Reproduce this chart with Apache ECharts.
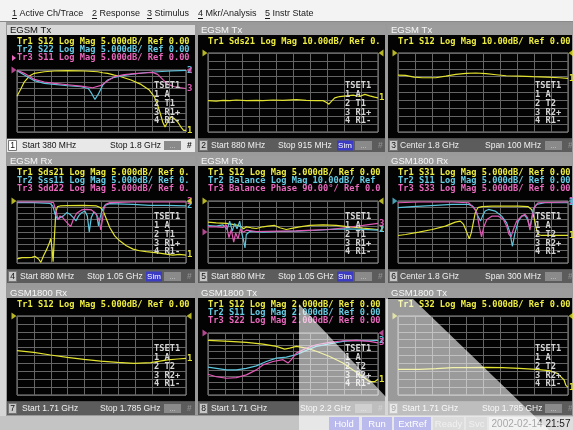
<!DOCTYPE html>
<html>
<head>
<meta charset="utf-8">
<script src="https://cdn.jsdelivr.net/npm/echarts@6/dist/echarts.min.js"></script>
<style>
  html, body { margin: 0; padding: 0; background: #9a9a9a; }
  #chart { width: 573px; height: 430px; }
</style>
</head>
<body>
<div id="chart"></div>
<script>
// ---------- measured traces: frequency (MHz) and response ----------
// Ch1  EGSM Tx  380 MHz .. 1.8 GHz
const ch1F_S12 = [380,414,442,484,526,610,694,806,946,1058,1100,1142,1198,1254,1338,1422,1492,1534,1562,1584,1604,1624,1646,1674,1702,1730,1758,1780,1800];
const ch1S12   = [-21.1,-14.9,-9.5,-4.9,-2.7,-1.4,-0.8,-0.5,-0.8,-1.4,-2.2,-2.7,-4.1,-5.4,-8.1,-11.6,-16.2,-21.6,-28.4,-35.1,-41.9,-46.0,-41.9,-37.8,-39.2,-41.9,-46.0,-48.7,-48.7];
const ch1F_S22 = [380,442,526,610,694,806,918,979,1007,1035,1063,1100,1142,1198,1282,1366,1450,1562,1674,1800];
const ch1S22   = [-0.5,-4.1,-8.6,-10.8,-11.6,-12.7,-13.5,-14.9,-18.9,-23.8,-19.5,-12.2,-8.1,-5.9,-4.3,-3.2,-2.2,-1.4,-0.8,-0.3];
const ch1F_S11 = [380,442,526,610,694,806,918,1016,1086,1142,1198,1282,1366,1450,1520,1562,1604,1646,1702,1758,1800];
const ch1S11   = [-0.2,-2.7,-7.6,-9.7,-10.8,-11.9,-13.0,-14.3,-12.4,-8.6,-5.4,-3.8,-3.0,-2.4,-1.9,-3.5,-7.6,-11.4,-13.5,-14.3,-14.9];

// Ch2  EGSM Tx  880 .. 915 MHz
const ch2F     = [880,881.7,883.1,884.5,885.8,887.9,890.0,891.3,893.4,895.4,898.2,900.2,902.3,903.7,904.4,904.9,905.4,906.1,907.1,908.5,909.9,911.2,912.3,913.3,914.3,915];
const ch2Sds21 = [-60.3,-60.8,-59.9,-60.3,-59.5,-60.3,-59.9,-60.3,-59.5,-59.9,-59.0,-59.9,-60.3,-60.3,-62.6,-64.8,-61.2,-56.8,-55.1,-54.2,-53.3,-55.1,-52.4,-54.2,-55.9,-56.8];

// Ch3  EGSM Tx  center 1.8 GHz, span 100 MHz
const ch3F   = [1750,1754.5,1759.4,1764.4,1772.2,1778.1,1784.1,1790,1795.9,1801.8,1807.7,1813.6,1821.5,1829.3,1837.2,1845.1,1850];
const ch3S12 = [-27.9,-28.3,-30.5,-31.3,-31.3,-29.2,-27.0,-25.8,-25.3,-26.2,-27.5,-28.8,-29.2,-30.0,-30.5,-31.3,-32.2];

// Ch4  EGSM Rx  880 MHz .. 1.05 GHz
const ch4F_Sds21 = [880,885,890,895,898.3,901.7,904,906.7,910,912.7,914,915.3,916.3,917.7,919,920.7,923.3,930,946.7,960,964,966.7,970,973.3,978.3,983.3,990,996.7,1003.3,1010,1016.7,1023.3,1030,1036.7,1043.3,1050];
const ch4Sds21   = [-46.8,-45.7,-45.7,-45.5,-44.7,-46.8,-49.5,-44.1,-38.8,-33.4,-30.2,-38.8,-48.9,-28.1,-9.4,-4.5,-4.0,-3.7,-3.5,-4.0,-5.3,-8.0,-14.7,-21.4,-28.1,-32.1,-36.1,-38.8,-40.1,-40.9,-41.4,-42.0,-42.8,-43.6,-43.1,-43.6];
const ch4F_Sss11 = [880,896.7,913.3,916,918.3,920.7,923.3,926.7,930,933.3,936.7,939.3,942,945,948.3,950.7,952.7,954.7,957.3,960,962,963.3,965.3,968.3,973.3,996.7,1013.3,1030,1050];
const ch4Sss11   = [-1.3,-1.3,-1.9,-4.0,-10.7,-14.7,-13.4,-12.0,-9.4,-10.7,-13.4,-16.0,-12.0,-9.4,-8.0,-12.0,-24.9,-13.4,-8.8,-10.7,-20.1,-14.7,-8.0,-3.5,-2.1,-2.7,-3.5,-3.5,-4.0];
const ch4F_Sdd22 = [880,896.7,913.3,916.7,919.3,921.3,923.3,926,928.7,931.7,934,936.7,940,945,950,955,958.3,960.7,962.7,964.3,966,967.3,969.3,973.3,996.7,1030,1050];
const ch4Sdd22   = [-0.8,-0.8,-0.8,-1.3,-8.0,-15.2,-12.0,-13.4,-16.0,-18.7,-20.6,-14.7,-9.9,-7.2,-6.7,-7.2,-9.4,-12.0,-16.0,-23.3,-14.7,-6.7,-2.7,-1.3,-0.8,-0.8,-0.8];

// Ch5  EGSM Rx  880 MHz .. 1.05 GHz (S12, balance magnitude, balance phase)
const ch5F_S12  = [880,888.3,898.3,905,910,913.3,915.7,918.3,923.3,928.3,935,940,946.7,951.7,958.3,965,971.7,981.7,995,1008.3,1021.7,1035,1050];
const ch5S12    = [-17.0,-17.6,-18.1,-18.9,-19.7,-20.8,-22.4,-20.8,-21.6,-22.2,-20.8,-20.3,-19.7,-21.6,-23.0,-21.9,-20.8,-19.7,-19.2,-19.7,-20.8,-21.9,-23.0];
const ch5F_Bal  = [880,888.3,895,899,901.7,904.3,906.7,909,911.7,913.7,915.7,917,918.3,921.7,935,951.7,968.3,985,1001.7,1018.3,1035,1050];
const ch5BalMag = [10.5,9.5,11.6,4.1,17.6,1.4,13.8,5.1,17.6,-1.4,-14.9,-25.7,-4.1,0.8,-0.3,0.8,1.4,2.4,4.1,5.1,4.1,3.0];
const ch5F_Ph   = [880,888.3,895,898.3,901,903.3,905.7,907.7,910,912.3,915,918.3,928.3,951.7,968.3,985,1001.7,1018.3,1035,1050];
const ch5BalPh  = [75.4,75.4,65.7,104.6,-82.2,36.5,-148.4,-12.2,-99.7,36.5,-2.4,26.8,7.3,12.2,17.0,26.8,36.5,65.7,94.9,124.1];

// Ch6  GSM1800 Rx  center 1.8 GHz, span 300 MHz
const ch6F_S31 = [1650,1663.5,1686.9,1710.3,1733.6,1751.2,1760,1765.8,1771.7,1775.8,1779.3,1783.4,1786.3,1791,1798,1815.5,1833,1862.3,1879.8,1885.7,1888.6,1891.5,1894.5,1897.4,1903.2,1920.8,1950];
const ch6S31   = [-27.8,-27.0,-25.1,-23.0,-20.3,-17.0,-16.2,-18.9,-25.7,-30.5,-25.7,-16.2,-9.5,-5.4,-4.6,-4.1,-4.1,-4.1,-4.6,-6.8,-10.8,-16.2,-23.0,-27.0,-27.8,-27.8,-27.8];
const ch6F_S11 = [1650,1675.1,1716.1,1745.3,1774.6,1781.6,1786.3,1791,1795.6,1799.1,1803.8,1809.7,1821.4,1833,1841.8,1847.7,1851.8,1856.5,1862.3,1868.2,1874.1,1878.7,1882.8,1885.7,1888.6,1894.5,1909.1,1950];
const ch6S11   = [-5.4,-4.6,-3.5,-2.7,-2.7,-4.1,-6.8,-12.2,-16.2,-12.2,-8.1,-6.8,-8.1,-12.2,-17.6,-25.7,-36.5,-25.7,-16.2,-12.2,-11.6,-14.9,-21.6,-14.9,-6.8,-2.7,-1.4,-1.4];
const ch6F_S33 = [1650,1686.9,1745.3,1774.6,1783.4,1789.2,1793.9,1797.4,1800.9,1806.7,1815.5,1827.2,1836,1841.8,1845.9,1849.4,1853.5,1859.4,1868.2,1874.1,1878.7,1882.8,1885.7,1890.4,1897.4,1950];
const ch6S33   = [-1.4,-0.8,-0.8,-1.4,-5.4,-9.5,-21.6,-28.9,-21.6,-14.9,-12.2,-12.2,-14.9,-20.3,-27.0,-28.9,-23.0,-16.2,-12.2,-10.8,-13.5,-23.5,-14.9,-5.4,-1.4,-0.8];

// Ch7  GSM1800 Rx  1.71 .. 1.785 GHz
const ch7F   = [1710,1717.4,1724.9,1732.3,1739.7,1747.1,1754.6,1762,1769.4,1776.8,1781.3,1785];
const ch7S12 = [-21.9,-23.0,-24.7,-26.2,-27.4,-28.5,-29.3,-30.0,-29.5,-27.8,-27.2,-26.8];

// Ch8  GSM1800 Tx  1.71 .. 2.2 GHz
const ch8F_S12 = [1710,1772.5,1820.5,1868.5,1907,1931,1945.4,1964.6,1993.4,2022.3,2060.7,2099.1,2127.9,2156.8,2176,2190.4,2200];
const ch8S12   = [-2.4,-2.7,-3.0,-3.6,-4.3,-5.2,-4.9,-4.3,-4.9,-5.9,-7.6,-9.7,-11.9,-14.1,-15.7,-15.7,-14.9];
const ch8F_S11 = [1710,1734,1762.8,1791.7,1820.5,1849.3,1878.1,1907,1935.8,1964.6,1993.4,2022.3,2060.7,2099.1,2137.6,2176,2200];
const ch8S11   = [-11.0,-11.4,-11.9,-11.9,-11.4,-10.6,-9.2,-8.1,-7.8,-7.0,-5.6,-4.3,-3.5,-2.7,-2.4,-2.5,-2.4];
const ch8F_S22 = [1710,1734,1762.8,1791.7,1820.5,1849.3,1868.5,1897.4,1926.2,1940.6,1950.2,1964.6,1993.4,2022.3,2060.7,2099.1,2137.6,2176,2200];
const ch8S22   = [-13.3,-14.1,-14.6,-14.4,-13.5,-11.9,-10.3,-9.2,-8.6,-9.7,-8.6,-6.5,-4.9,-3.8,-3.0,-2.5,-2.4,-2.7,-3.2];

// Ch9  GSM1800 Tx  1.71 .. 1.785 GHz
const ch9F   = [1710,1719.5,1726.8,1734.2,1741.5,1748.8,1756.1,1763.5,1770.8,1776.7,1780.3,1781.8,1783.3,1784,1785];
const ch9S32 = [-33.8,-33.8,-33.3,-32.7,-32.7,-32.5,-32.7,-33.1,-33.8,-34.6,-36.3,-38.4,-40.5,-43.7,-45.2];

// ---------- menu / status texts ----------
const menuItems = ['1 Active Ch/Trace', '2 Response', '3 Stimulus', '4 Mkr/Analysis', '5 Instr State'];
const statusItems = ['Hold', 'Run', 'ExtRef', 'Ready', 'Svc', '2002-02-14 21:57'];

// ---------- styling ----------
const YEL = '#e2e230', CYN = '#5cc4dc', MAG = '#e05ab4';
const HYEL = '#ecec40', HCYN = '#66cce4', HMAG = '#e868bc';
const MONO = 'DejaVu Sans Mono', SANS = 'Liberation Sans';

const tsetA = ['TSET1', '1 A', '2 T1', '3 R1+', '4 R1-'];
const tsetB = ['TSET1', '1 A', '2 T2', '3 R2+', '4 R1-'];

// trace helper: f = frequencies, v = values, div = scale per division, pos = reference position (divisions from bottom)
// mark: 0 none, 1 both reference triangles, 2 left triangle only
const tr = (f, v, c, div, pos, n, mark = 0) => ({ f, v, c, div, pos, ref: 0, n, mark });

const channels = [
  { title: 'EGSM Tx', start: 380, stop: 1800, active: true,
    head: [['Tr1 S12 Log Mag 5.000dB/ Ref 0.00', HYEL], ['Tr2 S22 Log Mag 5.000dB/ Ref 0.00', HCYN], ['Tr3 S11 Log Mag 5.000dB/ Ref 0.00', HMAG]],
    tset: tsetA, foot: ['Start 380 MHz', 'Stop 1.8 GHz'], fx: [15, 103], sim: false,
    traces: [tr(ch1F_S12, ch1S12, YEL, 5, 10, '1'), tr(ch1F_S22, ch1S22, CYN, 5, 10, '2'), tr(ch1F_S11, ch1S11, MAG, 5, 10, '3', 1)] },
  { title: 'EGSM Tx', start: 880, stop: 915,
    head: [['Tr1 Sds21 Log Mag 10.00dB/ Ref 0.', HYEL]],
    tset: tsetA, foot: ['Start 880 MHz', 'Stop 915 MHz'], fx: [13, 80], sim: true,
    traces: [tr(ch2F, ch2Sds21, YEL, 10, 10, '1', 1)] },
  { title: 'EGSM Tx', start: 1750, stop: 1850,
    head: [['Tr1 S12 Log Mag 10.00dB/ Ref 0.00', HYEL]],
    tset: tsetB, foot: ['Center 1.8 GHz', 'Span 100 MHz'], fx: [12, 97], sim: false,
    traces: [tr(ch3F, ch3S12, YEL, 10, 10, '1', 1)] },
  { title: 'EGSM Rx', start: 880, stop: 1050,
    head: [['Tr1 Sds21 Log Mag 5.000dB/ Ref 0.', HYEL], ['Tr2 Sss11 Log Mag 5.000dB/ Ref 0.', HCYN], ['Tr3 Sdd22 Log Mag 5.000dB/ Ref 0.', HMAG]],
    tset: tsetA, foot: ['Start 880 MHz', 'Stop 1.05 GHz'], fx: [13, 80], sim: true,
    traces: [tr(ch4F_Sds21, ch4Sds21, YEL, 5, 10, '1', 1), tr(ch4F_Sss11, ch4Sss11, CYN, 5, 10, '2'), tr(ch4F_Sdd22, ch4Sdd22, MAG, 5, 10, '3')] },
  { title: 'EGSM Rx', start: 880, stop: 1050,
    head: [['Tr1 S12 Log Mag 5.000dB/ Ref 0.00', HYEL], ['Tr2 Balance Log Mag 10.00dB/ Ref', HCYN], ['Tr3 Balance Phase 90.00\u00b0/ Ref 0.0', HMAG]],
    tset: tsetA, foot: ['Start 880 MHz', 'Stop 1.05 GHz'], fx: [13, 80], sim: true,
    traces: [tr(ch5F_S12, ch5S12, YEL, 5, 10, '1', 1), tr(ch5F_Bal, ch5BalMag, CYN, 10, 5, '2'), tr(ch5F_Ph, ch5BalPh, MAG, 90, 5, '3', 2)] },
  { title: 'GSM1800 Rx', start: 1650, stop: 1950,
    head: [['Tr1 S31 Log Mag 5.000dB/ Ref 0.00', HYEL], ['Tr2 S11 Log Mag 5.000dB/ Ref 0.00', HCYN], ['Tr3 S33 Log Mag 5.000dB/ Ref 0.00', HMAG]],
    tset: tsetB, foot: ['Center 1.8 GHz', 'Span 300 MHz'], fx: [12, 97], sim: false,
    traces: [tr(ch6F_S31, ch6S31, YEL, 5, 10, '1'), tr(ch6F_S11, ch6S11, CYN, 5, 10, '2', 1), tr(ch6F_S33, ch6S33, MAG, 5, 10, '3')] },
  { title: 'GSM1800 Rx', start: 1710, stop: 1785,
    head: [['Tr1 S12 Log Mag 5.000dB/ Ref 0.00', HYEL]],
    tset: tsetB, foot: ['Start 1.71 GHz', 'Stop 1.785 GHz'], fx: [15, 93], sim: false,
    traces: [tr(ch7F, ch7S12, YEL, 5, 10, '1', 1)] },
  { title: 'GSM1800 Tx', start: 1710, stop: 2200,
    head: [['Tr1 S12 Log Mag 2.000dB/ Ref 0.00', HYEL], ['Tr2 S11 Log Mag 2.000dB/ Ref 0.00', HCYN], ['Tr3 S22 Log Mag 2.000dB/ Ref 0.00', HMAG]],
    tset: tsetB, foot: ['Start 1.71 GHz', 'Stop 2.2 GHz'], fx: [13, 102], sim: false,
    traces: [tr(ch8F_S12, ch8S12, YEL, 2, 10, '1'), tr(ch8F_S11, ch8S11, CYN, 2, 10, '2'), tr(ch8F_S22, ch8S22, MAG, 2, 10, '3', 1)] },
  { title: 'GSM1800 Tx', start: 1710, stop: 1785,
    head: [['Tr1 S32 Log Mag 5.000dB/ Ref 0.00', HYEL]],
    tset: tsetB, foot: ['Start 1.71 GHz', 'Stop 1.785 GHz'], fx: [14, 94], sim: false,
    traces: [tr(ch9F, ch9S32, YEL, 5, 10, '1', 1)] }
];

// ---------- window layout ----------
const colX = [7, 198, 388], colW = [188, 187, 184];
const rowY = [25, 156, 288];

const g = [];
const rect = (x, y, w, h, fill, z = -1, stroke) => g.push({ type: 'rect', silent: true, z,
  shape: { x, y, width: w, height: h }, style: stroke ? { fill, stroke, lineWidth: 1 } : { fill } });
const text = (x, y, s, fill, size, family, weight = 'normal', align = 'left', z = 6) => g.push({ type: 'text', silent: true, z, x, y,
  style: { text: s, fill, fontSize: size, fontFamily: family, fontWeight: weight, align, verticalAlign: 'middle' } });
const line = (x1, y1, x2, y2, stroke, z = 0) => g.push({ type: 'line', silent: true, z,
  shape: { x1, y1, x2, y2 }, style: { stroke, lineWidth: 1 } });

// menu bar
rect(0, 0, 573, 21, '#f3f3f3');
line(0, 21.5, 573, 21.5, '#8a8a8a');
rect(0, 22, 6, 408, '#d6d6d6');
const menuX = [12, 92, 147, 198, 265];
menuItems.forEach((m, k) => {
  text(menuX[k], 13.5, m, '#1a1a1a', 9, SANS, 'normal', 'left', 6);
  line(menuX[k], 18.5, menuX[k] + 5, 18.5, '#1a1a1a', 6);
});

const option = {
  backgroundColor: '#9a9a9a',
  animation: false,
  grid: [], xAxis: [], yAxis: [], series: [],
  graphic: { elements: g }
};

const divAxis = (gridIndex) => ({
  type: 'value', gridIndex, min: 0, max: 10, interval: 1,
  axisLine: { show: false }, axisTick: { show: false }, axisLabel: { show: false },
  splitLine: { show: true, lineStyle: { color: '#656565', width: 1 } }
});

channels.forEach((ch, i) => {
  const col = i % 3, row = Math.floor(i / 3);
  const x0 = colX[col], y0 = rowY[row], w = colW[col];
  const act = !!ch.active;

  // panel frame: title bar, trace area, footer
  rect(x0, y0, w, 10, act ? '#d8d8d8' : '#9c9c9c');
  text(x0 + 3, y0 + 5.5, ch.title, act ? '#111' : '#f6f6f6', 9.5, SANS);
  rect(x0, y0 + 10, w, 103.5, '#030303');
  rect(x0, y0 + 114, w, 13, act ? '#e8e8e8' : '#5c5c5c');
  const fy = y0 + 120.5;
  rect(x0 + 1.5, y0 + 115.5, 8, 10, act ? '#ffffff' : '#c8c8c8', 0, '#777');
  text(x0 + 5.5, fy, String(i + 1), '#111', 8.5, SANS, 'normal', 'center');
  text(x0 + ch.fx[0], fy, ch.foot[0], act ? '#111' : '#f0f0f0', 8.5, SANS);
  text(x0 + ch.fx[1], fy, ch.foot[1], act ? '#111' : '#f0f0f0', 8.5, SANS);
  if (ch.sim) {
    rect(x0 + 139, y0 + 115.5, 16, 10, '#3b3bc4');
    text(x0 + 147, fy, 'Sim', '#ffffff', 8, SANS, 'normal', 'center');
  }
  rect(x0 + 157, y0 + 116, 17, 9, '#8a8a8a');
  text(x0 + 165.5, fy, '...', '#d0d0d0', 8, SANS, 'normal', 'center');
  text(x0 + 180, fy, '#', act ? '#111' : '#8c8c8c', 8.5, SANS, 'bold');

  // trace header lines
  ch.head.forEach((h, k) => text(x0 + 10, y0 + 17 + k * 8, h[0], h[1], 8.7, MONO, 'bold'));
  if (act) {
    const ay = y0 + 33;
    g.push({ type: 'polygon', silent: true, z: 6, shape: { points: [[x0 + 5, ay - 3], [x0 + 5, ay + 3], [x0 + 9, ay]] }, style: { fill: HMAG } });
  }
  // test set annotation
  ch.tset.forEach((s, k) => text(x0 + 147, y0 + 61 + k * 8.8, s, '#d4d4d4', 8.7, MONO, 'bold'));

  // graticule
  const gTop = y0 + (ch.head.length === 3 ? 45 : 28);
  const gLeft = x0 + 10, gW = col === 0 ? 169 : 170, gH = y0 + 107 - gTop;
  option.grid.push({ left: gLeft, top: gTop, width: gW, height: gH, show: true,
    borderColor: '#909090', borderWidth: 1, backgroundColor: 'transparent' });
  option.xAxis.push(divAxis(i));
  option.yAxis.push(divAxis(i));
  const xF = option.xAxis.length;
  option.xAxis.push({ type: 'value', gridIndex: i, min: ch.start, max: ch.stop, show: false });

  ch.traces.forEach(t => {
    const yi = option.yAxis.length;
    option.yAxis.push({ type: 'value', gridIndex: i, show: false,
      min: t.ref - t.pos * t.div, max: t.ref + (10 - t.pos) * t.div });
    option.series.push({
      type: 'line', xAxisIndex: xF, yAxisIndex: yi, silent: true, z: 3,
      data: t.f.map((f, k) => [f, t.v[k]]),
      showSymbol: false, symbol: 'none',
      lineStyle: { color: t.c, width: 1.2 }, itemStyle: { color: t.c },
      endLabel: { show: true, formatter: t.n, color: t.c, fontFamily: MONO, fontSize: 9, fontWeight: 'bold', distance: 1 }
    });
    if (t.mark) {
      const marks = [{ value: [ch.start, t.ref], symbolRotate: -90, symbolOffset: [-3, 0] }];
      if (t.mark === 1) marks.push({ value: [ch.stop, t.ref], symbolRotate: 90, symbolOffset: [3, 0] });
      option.series.push({
        type: 'scatter', xAxisIndex: xF, yAxisIndex: yi, silent: true, z: 4, clip: false,
        symbol: 'triangle', symbolSize: [7, 5], itemStyle: { color: t.c }, data: marks
      });
    }
  });
});

// status bar
rect(0, 416, 573, 14, '#c4c4c4');
const stat = [
  [329, 30, '#5454d0', '#ffffff'], [362, 30, '#5454d0', '#ffffff'], [394, 37, '#5454d0', '#ffffff'],
  [433, 31, '#a8a8a8', '#dcdcdc'], [466, 21, '#a8a8a8', '#dcdcdc'], [489, 84, '#dedede', '#202020']
];
statusItems.forEach((s, k) => {
  const [x, w, bg, fg] = stat[k];
  rect(x, 417, w, 13, bg, 0);
  text(x + w / 2, 424, s, fg, k === 5 ? 10 : 9.5, SANS, 'normal', 'center', 6);
});

// glare over the lower right corner of the screen
g.push({ type: 'polygon', silent: true, z: 100,
  shape: { points: [[299, 304], [386, 397], [386, 299], [413, 299], [549, 430], [299, 430]] },
  style: { fill: 'rgba(255,255,255,0.6)' } });

const chart = echarts.init(document.getElementById('chart'), null, { renderer: 'canvas' });
chart.setOption(option);
</script>
</body>
</html>
